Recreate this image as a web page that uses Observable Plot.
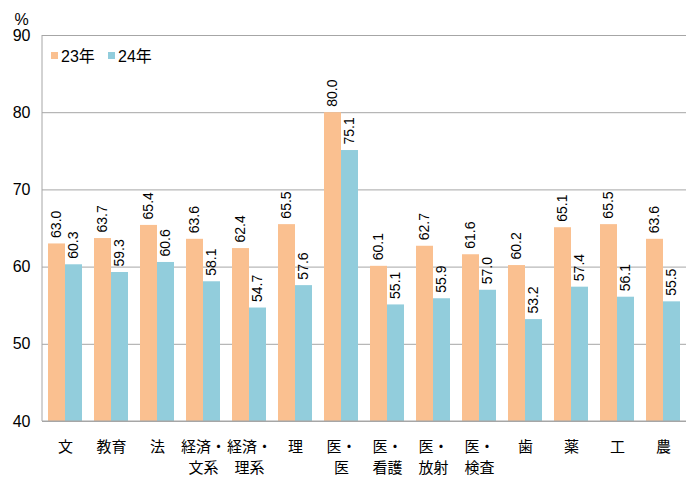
<!DOCTYPE html>
<html><head><meta charset="utf-8">
<script src="https://cdn.jsdelivr.net/npm/d3@7"></script>
<script src="https://cdn.jsdelivr.net/npm/@observablehq/plot@0.6"></script>
<style>
body{margin:0;background:#fff;}
#wrap{position:relative;width:690px;height:486px;}
.lg{position:absolute;font:16px "Liberation Sans","Noto Sans CJK JP",sans-serif;color:#000;display:flex;align-items:center;}
.sw{display:inline-block;width:7px;height:7px;margin-right:3px;}
</style></head>
<body><div id="wrap"></div>
<script>
const categories = ["文","教育","法","経済・\n文系","経済・\n理系","理","医・\n医","医・\n看護","医・\n放射","医・\n検査","歯","薬","工","農"];
const v23 = [63.0,63.7,65.4,63.6,62.4,65.5,80.0,60.1,62.7,61.6,60.2,65.1,65.5,63.6];
const v24 = [60.3,59.3,60.6,58.1,54.7,57.6,75.1,55.1,55.9,57.0,53.2,57.4,56.1,55.5];
const yTicks = [40,50,60,70,80,90];
const series = ["23年","24年"];
const colors = ["#FAC090","#92CDDC"];

const d23 = categories.map((c,i)=>({c, v:v23[i]}));
const d24 = categories.map((c,i)=>({c, v:v24[i]}));
const half = 17;
const lblFont = '"Liberation Sans", Arial, sans-serif';

const chart = Plot.plot({
  width: 690, height: 486,
  marginLeft: 42, marginRight: 4, marginTop: 35, marginBottom: 65,
  style: {fontFamily: '"Liberation Sans","Noto Sans CJK JP",sans-serif', background: "#fff"},
  x: {domain: categories, paddingInner: 0.26, paddingOuter: 0.13, label: null},
  y: {domain: [40, 90], label: null},
  marks: [
    Plot.ruleY(yTicks, {stroke: "#a6a6a6", strokeWidth: 1}),
    Plot.barY(d23, {x: "c", y1: 40, y2: "v", fill: colors[0], insetRight: half}),
    Plot.barY(d24, {x: "c", y1: 40, y2: "v", fill: colors[1], insetLeft: half}),
    Plot.text(d23, {x: "c", y: "v", text: d=>d.v.toFixed(1), rotate: -90, textAnchor: "start", dx: -half/2, dy: -6, fontSize: 14, fontFamily: lblFont, fill: "#000"}),
    Plot.text(d24, {x: "c", y: "v", text: d=>d.v.toFixed(1), rotate: -90, textAnchor: "start", dx: half/2, dy: -6, fontSize: 14, fontFamily: lblFont, fill: "#000"}),
    Plot.axisY({ticks: yTicks, tickSize: 0, tickPadding: 12, fontSize: 16, label: null, fill:"#000"}),
    Plot.axisX({tickSize: 0, tickPadding: 16, fontSize: 15, lineHeight: 1.4, fontFamily: '"Noto Sans CJK JP",sans-serif', label: null, fill:"#000"}),
    Plot.text(["%"], {frameAnchor: "top-left", dx: -21, dy: -22, textAnchor: "middle", fontSize: 16, fill:"#000"})
  ]
});
const wrap = document.getElementById("wrap");
wrap.appendChild(chart);
const sy = chart.scale("y");
const svg = d3.select(chart);
svg.append("line").attr("x1",42).attr("x2",42).attr("y1",sy.apply(90)).attr("y2",sy.apply(40)).attr("stroke","#a6a6a6");
svg.append("line").attr("x1",42).attr("x2",686).attr("y1",sy.apply(40)).attr("y2",sy.apply(40)).attr("stroke","#a6a6a6");

series.forEach((s,i)=>{
  const d = document.createElement("div");
  d.className = "lg";
  d.style.left = (i===0? 51 : 108) + "px";
  d.style.top = "43px";
  d.innerHTML = `<span class="sw" style="background:${colors[i]}"></span>${s}`;
  wrap.appendChild(d);
});
</script>
</body></html>
